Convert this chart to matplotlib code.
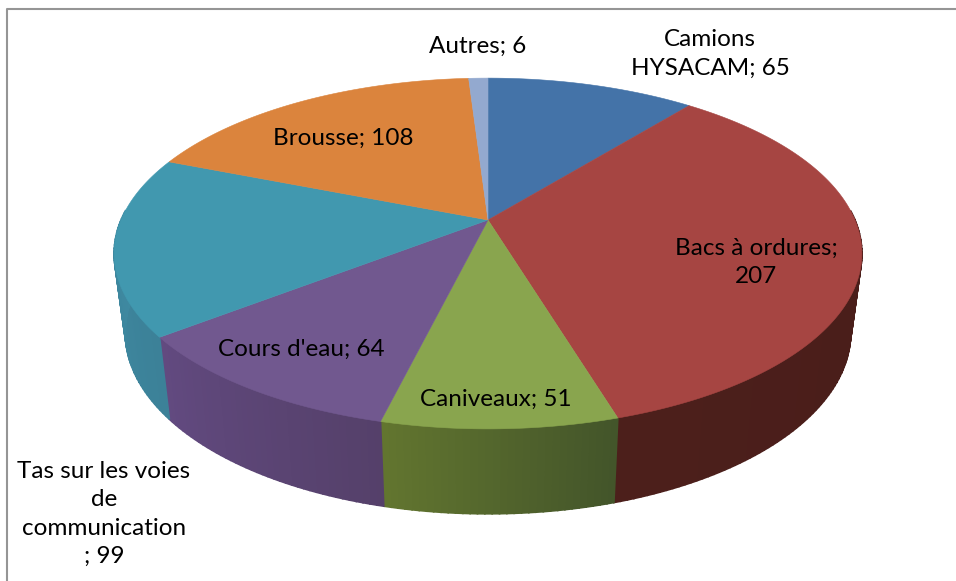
import numpy as np
import matplotlib
matplotlib.use("Agg")
import matplotlib.pyplot as plt
from matplotlib.colors import to_rgb

values = [65, 207, 51, 64, 99, 108, 6]
labels = ["Camions\nHYSACAM; 65", "Bacs à ordures;\n207", "Caniveaux; 51", "Cours d'eau; 64",
          "Tas sur les voies\nde\ncommunication\n; 99", "Brousse; 108", "Autres; 6"]
top_colors = ["#4473a8", "#a64542", "#89a54e", "#71588f", "#4198af", "#db843d", "#93a9cf"]
side_left = ["#2f4f75", "#4c1f1b", "#62752f", "#624a80", "#3f8ea6", "#a8642e", "#6f80a0"]
side_right = ["#2a4769", "#471c19", "#43552a", "#55406a", "#3c8198", "#9a5b2a", "#66768f"]
label_x = [710, 756, 496, 301, 104, 343, 478]
label_y = [54, 262, 399, 349, 514, 138, 46]

cx, cy = 488, 220
ax_a, ax_b = 367, 169
persp = 0.191


def top_rim(theta):
    u, v = np.sin(theta), np.cos(theta)
    w = 1 + persp * v
    return cx + ax_a * u / w, cy - ax_b * v / w


def bottom_rim(theta):
    x, y = top_rim(theta)
    w = 1 + persp * np.cos(theta)
    return cx + (x - cx) * 0.97, y + 78 / w ** 0.4


fig = plt.figure(figsize=(9.56, 5.81), dpi=100)
ax = fig.add_axes([0, 0, 1, 1])
ax.set_xlim(0, 956)
ax.set_ylim(581, 0)
ax.axis("off")

# only the top and left of the chart frame are in the crop
ax.plot([7, 7, 956], [581, 9, 9], color="#959595", lw=1.5)

edges = np.cumsum([0] + values) / sum(values) * 2 * np.pi

# sides first, the top faces cover them; the back half is never seen
for i in range(len(values)):
    a0, a1 = edges[i], edges[i + 1]
    n = max(int((a1 - a0) * 60), 2)
    t = np.linspace(a0, a1, n + 1)
    for j in range(n):
        if np.cos(t[j]) > 0.05 and np.cos(t[j + 1]) > 0.05:
            continue
        frac = j / max(n - 1, 1)
        c = (1 - frac) * np.array(to_rgb(side_right[i])) + frac * np.array(to_rgb(side_left[i]))
        x0, y0 = top_rim(t[j])
        x1, y1 = top_rim(t[j + 1])
        x2, y2 = bottom_rim(t[j + 1])
        x3, y3 = bottom_rim(t[j])
        ax.fill([x0, x1, x2, x3], [y0, y1, y2, y3], color=c, lw=1.2, zorder=2)

for i in range(len(values)):
    t = np.linspace(edges[i], edges[i + 1], 200)
    x, y = top_rim(t)
    ax.fill(np.r_[cx, x], np.r_[cy, y], color=top_colors[i], lw=0.4, zorder=3)

for i in range(len(values)):
    ax.text(label_x[i], label_y[i], labels[i], ha="center", va="center", fontsize=17.5,
            family="Lato", color="black", linespacing=1.42, zorder=4)

fig.savefig("out.png", dpi=100)
